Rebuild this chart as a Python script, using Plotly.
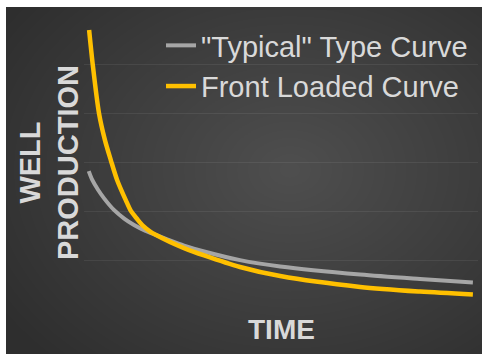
import plotly.graph_objects as go

# Time axis (arbitrary units) and production rates for each decline curve
typical_time = [1.2, 2.1, 3.6, 5.1, 7.6, 10.2, 12.7, 15.5, 18.3, 21.8, 25.4, 30.5,
                39.6, 49.8, 70.1, 85.3, 98.7]
typical_rate = [56.5, 52.9, 48.8, 45.4, 40.7, 37.2, 34.6, 32.3, 30.5, 28.3, 26.2, 23.8,
                20.3, 17.7, 14.4, 12.6, 11.2]

front_time = [1.3, 2.2, 3.8, 5.3, 6.8, 8.4, 10.6, 11.9, 13.5, 15.0, 16.8, 18.3, 21.8,
              25.4, 30.5, 39.6, 49.8, 70.1, 85.3, 98.7]
front_rate = [113.9, 100.1, 80.1, 69.2, 61.0, 52.9, 44.7, 40.3, 37.0, 34.2, 31.9, 30.5,
              27.7, 25.2, 22.2, 17.5, 13.8, 9.4, 7.5, 6.3]

series_names = ['"Typical" Type Curve', "Front Loaded Curve"]
series_colors = ["#A6A6A6", "#FFC000"]

W, H = 482, 354
ML, MR, MT, MB = 84, 4, 15, 44
pw, ph = W - ML - MR, H - MT - MB
FONT = "Liberation Sans, Arial, sans-serif"
TEXT_COLOR = "#D9D9D9"


def px_x(p):
    return (p - ML) / pw


def px_y(p):
    return (H - MB - p) / ph


fig = go.Figure()

fig.add_trace(go.Scatter(
    x=typical_time, y=typical_rate, mode="lines", name=series_names[0],
    line=dict(color=series_colors[0], width=4, shape="spline", smoothing=0.8),
    legendgroup="a",
))
fig.add_trace(go.Scatter(
    x=front_time, y=front_rate, mode="lines", name=series_names[1],
    line=dict(color=series_colors[1], width=4.5, shape="spline", smoothing=0.8),
    legendgroup="b",
))

# Dark slide panel with a soft radial glow toward the centre
shapes = [dict(type="rect", xref="paper", yref="paper",
               x0=px_x(6), x1=px_x(W + 2), y0=px_y(H + 2), y1=px_y(7),
               fillcolor="#2e2e2e", line=dict(width=0), layer="below")]
cx, cy = 290, 170
n = 32
for i in range(n):
    f = 1 - i / n
    rx, ry = 340 * f, 260 * f
    shapes.append(dict(type="circle", xref="paper", yref="paper",
                       x0=px_x(cx - rx), x1=px_x(cx + rx),
                       y0=px_y(cy + ry), y1=px_y(cy - ry),
                       fillcolor="rgba(255,255,255,0.0075)",
                       line=dict(width=0), layer="below"))

fig.update_layout(
    width=W, height=H,
    margin=dict(l=ML, r=MR, t=MT, b=MB),
    paper_bgcolor="white",
    plot_bgcolor="rgba(0,0,0,0)",
    shapes=shapes,
    showlegend=True,
    legend=dict(
        x=px_x(161), y=px_y(20), xanchor="left", yanchor="top",
        bgcolor="rgba(0,0,0,0)", borderwidth=0,
        font=dict(family=FONT, size=29, color=TEXT_COLOR),
        tracegroupgap=0,
    ),
    xaxis=dict(range=[0, 100], showgrid=False, zeroline=False,
               showticklabels=False, ticks=""),
    yaxis=dict(range=[0, 120], dtick=20, showgrid=True,
               gridcolor="rgba(255,255,255,0.07)", gridwidth=1,
               zeroline=False, showticklabels=False, ticks=""),
    annotations=[
        dict(text="<b>TIME</b>", xref="paper", yref="paper",
             x=px_x(281), y=px_y(329), xanchor="center", yanchor="middle",
             showarrow=False,
             font=dict(family=FONT, size=28, color=TEXT_COLOR)),
        dict(text="<b>WELL<br>PRODUCTION</b>", xref="paper", yref="paper",
             x=px_x(49), y=px_y(163), xanchor="center", yanchor="middle",
             textangle=-90, showarrow=False,
             font=dict(family=FONT, size=29, color=TEXT_COLOR)),
    ],
)

fig.write_html("out.html")
